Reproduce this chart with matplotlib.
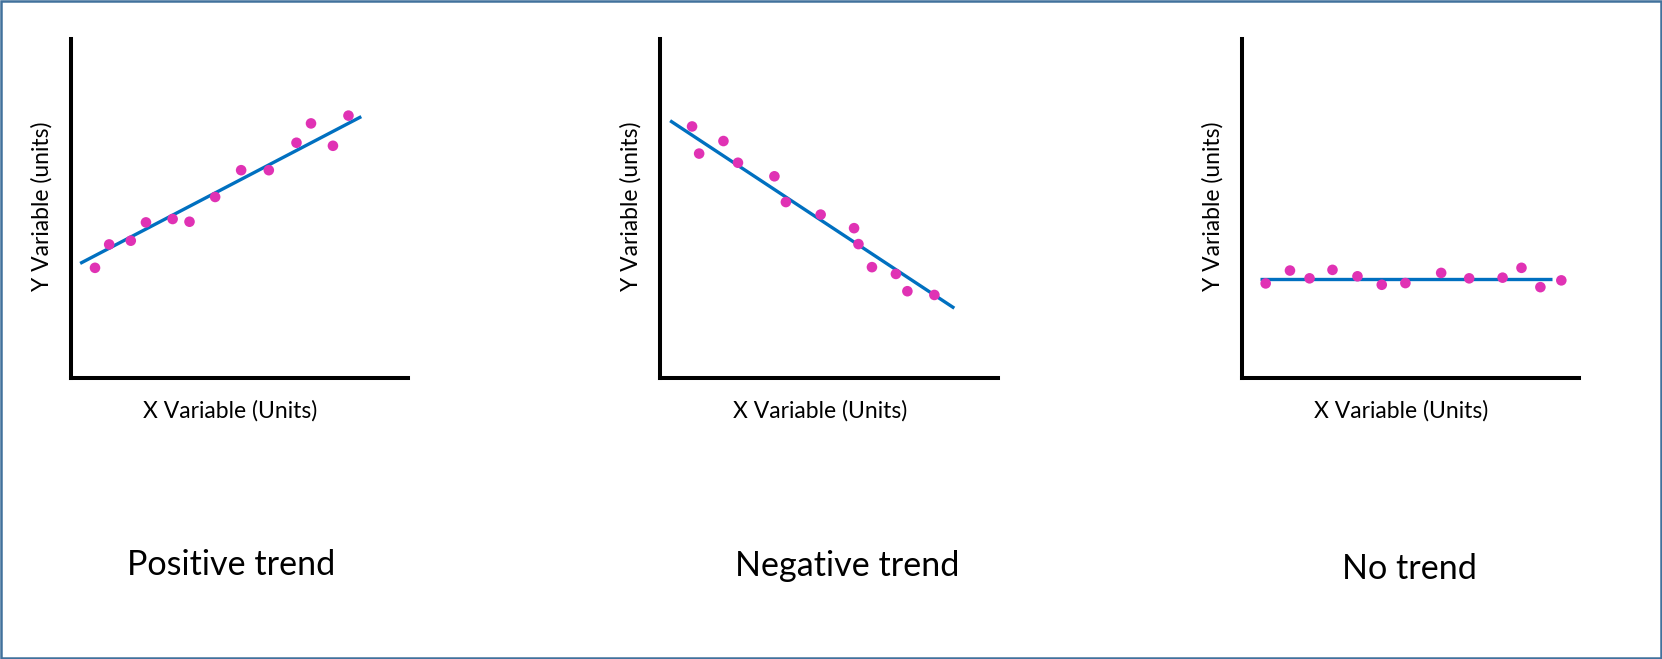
import matplotlib
matplotlib.use("Agg")
import matplotlib.pyplot as plt
from matplotlib.patches import Rectangle

W, H = 1662, 659
DPI = 100

# ---- data (axes scaled 0..100 in both directions) ----
titles = ["Positive trend", "Negative trend", "No trend"]
x_label = "X Variable (Units)"
y_label = "Y Variable (units)"

pos_x = [7.2, 11.4, 17.8, 22.3, 30.2, 35.2, 42.8, 50.5, 58.7, 66.9, 71.2, 77.7, 82.3]
pos_y = [32.5, 39.4, 40.5, 45.9, 46.9, 46.1, 53.4, 61.3, 61.3, 69.4, 75.1, 68.5, 77.4]
pos_trend_x = [2.8, 86.1]
pos_trend_y = [33.8, 77.1]

neg_x = [9.5, 11.6, 18.8, 23.1, 33.9, 37.3, 47.6, 57.5, 58.8, 62.8, 69.9, 73.3, 81.3]
neg_y = [74.2, 66.2, 69.9, 63.5, 59.5, 51.9, 48.2, 44.2, 39.5, 32.7, 30.7, 25.6, 24.5]
neg_trend_x = [3.0, 87.2]
neg_trend_y = [75.9, 20.6]

none_x = [7.1, 14.3, 20.1, 26.9, 34.3, 41.5, 48.5, 59.1, 67.4, 77.3, 82.9, 88.5, 94.7]
none_y = [27.9, 31.7, 29.4, 31.9, 30.0, 27.5, 28.0, 31.0, 29.4, 29.6, 32.5, 26.8, 28.8]
none_trend_x = [5.4, 91.8]
none_trend_y = [29.2, 29.2]

series = [
    (pos_x, pos_y, pos_trend_x, pos_trend_y),
    (neg_x, neg_y, neg_trend_x, neg_trend_y),
    (none_x, none_y, none_trend_x, none_trend_y),
]

# ---- layout (pixels) ----
axes_left_px = [70.7, 660.0, 1241.7]
axes_width_px = 337.5
axes_top_px, axes_bottom_px = 39.0, 378.0
title_center_px = [231.0, 847.0, 1409.0]
title_baseline_px = [575.0, 575.5, 579.3]
ylabel_center_px = [41.7, 630.5, 1213.0]

DOT = "#E032B4"
LINE = "#0070C0"
BORDER = "#41719C"
FONT = "Lato"

fig = plt.figure(figsize=(W / DPI, H / DPI), dpi=DPI)
fig.patch.set_facecolor("white")

def fx(px):
    return px / W

def fy(py):
    return 1 - py / H

for i, (sx, sy, tx, ty) in enumerate(series):
    L = axes_left_px[i]
    ax = fig.add_axes([fx(L), fy(axes_bottom_px), axes_width_px / W,
                       (axes_bottom_px - axes_top_px) / H])
    ax.set_xlim(0, 100)
    ax.set_ylim(0, 100)
    ax.set_xticks([])
    ax.set_yticks([])
    ax.patch.set_alpha(0)
    for s in ("top", "right"):
        ax.spines[s].set_visible(False)
    for s in ("left", "bottom"):
        ax.spines[s].set_linewidth(2.9)
        ax.spines[s].set_color("black")
        ax.spines[s].set_capstyle("projecting")
    ax.plot(tx, ty, color=LINE, linewidth=2.4, solid_capstyle="butt", zorder=2)
    ax.scatter(sx, sy, s=58, color=DOT, edgecolors="none", zorder=3)

    # x label
    fig.text(fx(L + axes_width_px / 2 - 9), fy(417.3), x_label, ha="center",
             va="baseline", fontsize=16.5, family=FONT, color="black")
    # y label
    fig.text(fx(ylabel_center_px[i]), fy(206), y_label, ha="center",
             va="center", rotation=90, fontsize=16.5, family=FONT, color="black")
    # title
    fig.text(fx(title_center_px[i]), fy(title_baseline_px[i]), titles[i],
             ha="center", va="baseline", fontsize=24.6, family=FONT, color="black")

# outer border
fig.patches.append(Rectangle((fx(1.2), fy(H - 1.2)), 1 - 2.4 / W, 1 - 2.4 / H,
                             transform=fig.transFigure, fill=False,
                             edgecolor=BORDER, linewidth=1.8))

fig.savefig("out.png", dpi=DPI, facecolor="white")
